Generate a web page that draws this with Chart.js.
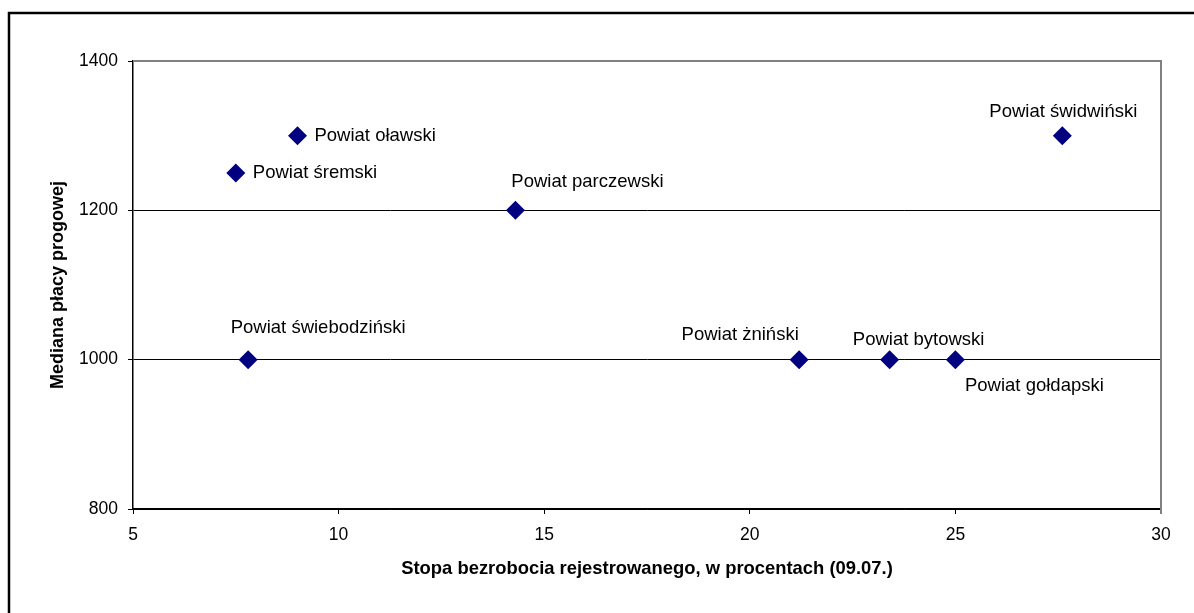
<!DOCTYPE html>
<html>
<head>
<meta charset="utf-8">
<script src="https://cdn.jsdelivr.net/npm/chart.js@4/dist/chart.umd.min.js"></script>
<style>
  html, body { margin: 0; padding: 0; background: #fff; }
  #wrap { width: 1194px; height: 613px; }
</style>
</head>
<body>
<div id="wrap"><canvas id="chart" width="1194" height="613"></canvas></div>
<script>
// data
const powiaty = ['Powiat oławski', 'Powiat śremski', 'Powiat parczewski', 'Powiat świebodziński',
  'Powiat żniński', 'Powiat bytowski', 'Powiat gołdapski', 'Powiat świdwiński'];
const stopaBezrobocia = [9.0, 7.5, 14.3, 7.8, 21.2, 23.4, 25.0, 27.6];
const medianaPlacy = [1300, 1250, 1200, 1000, 1000, 1000, 1000, 1300];

const xTitle = 'Stopa bezrobocia rejestrowanego, w procentach (09.07.)';
const yTitle = 'Mediana płacy progowej';

// where each label sits relative to its point (pixels)
const labelPlacement = [
  { dx: 17, dy: 0, align: 'left' },
  { dx: 17, dy: 0, align: 'left' },
  { dx: 72, dy: -28.5, align: 'center' },
  { dx: 70, dy: -31.5, align: 'center' },
  { dx: -59, dy: -24.5, align: 'center' },
  { dx: 29, dy: -19.5, align: 'center' },
  { dx: 79, dy: 26.5, align: 'center' },
  { dx: 1, dy: -23.5, align: 'center' }
];

const FONT = "'Liberation Sans', Arial, sans-serif";

const pointLabels = {
  id: 'pointLabels',
  afterDatasetsDraw(chart) {
    const ctx = chart.ctx;
    const meta = chart.getDatasetMeta(0);
    ctx.save();
    ctx.font = '18.5px ' + FONT;
    ctx.fillStyle = '#000';
    ctx.textBaseline = 'middle';
    meta.data.forEach((pt, i) => {
      const p = labelPlacement[i];
      ctx.textAlign = p.align;
      ctx.fillText(powiaty[i], pt.x + p.dx, pt.y + p.dy);
    });
    ctx.restore();
  }
};

const frame = {
  id: 'frame',
  beforeDraw(chart) {
    const ctx = chart.ctx;
    ctx.save();
    ctx.fillStyle = '#fff';
    ctx.fillRect(0, 0, chart.width, chart.height);
    ctx.strokeStyle = '#000';
    ctx.lineWidth = 2.5;
    ctx.beginPath();
    ctx.moveTo(9, chart.height);
    ctx.lineTo(9, 13);
    ctx.lineTo(chart.width, 13);
    ctx.stroke();
    ctx.restore();
  },
  afterDatasetsDraw(chart) {
    // grey top and right edge of the plot area
    const a = chart.chartArea;
    const ctx = chart.ctx;
    ctx.save();
    ctx.strokeStyle = '#808080';
    ctx.lineWidth = 2;
    ctx.beginPath();
    ctx.moveTo(a.left, a.top);
    ctx.lineTo(a.right, a.top);
    ctx.lineTo(a.right, a.bottom + 5);
    ctx.stroke();
    ctx.restore();
  }
};

new Chart(document.getElementById('chart'), {
  type: 'scatter',
  data: {
    datasets: [{
      label: 'Powiaty',
      data: stopaBezrobocia.map((x, i) => ({ x: x, y: medianaPlacy[i] })),
      pointStyle: 'rectRot',
      pointRadius: 9.5,
      pointHoverRadius: 9.5,
      backgroundColor: '#000080',
      borderColor: '#000080',
      borderWidth: 0
    }]
  },
  options: {
    responsive: false,
    animation: false,
    events: [],
    layout: { padding: { left: 0, top: 61, right: 33, bottom: 0 } },
    plugins: {
      legend: { display: false },
      tooltip: { enabled: false }
    },
    scales: {
      x: {
        type: 'linear',
        min: 5,
        max: 30,
        afterFit(scale) { scale.height = 104; },
        ticks: {
          stepSize: 5,
          padding: 11,
          color: '#000',
          callback: (v) => String(v),
          font: { family: FONT, size: 17.5, lineHeight: 1.2 }
        },
        grid: {
          drawOnChartArea: false,
          tickLength: 5,
          tickColor: '#000',
          color: '#000'
        },
        border: { color: '#000', width: 1.5 },
        title: {
          display: true,
          text: xTitle,
          color: '#000',
          padding: { top: 0, bottom: 33.5 },
          font: { family: FONT, size: 18.4, weight: 'bold', lineHeight: 1.2 }
        }
      },
      y: {
        min: 800,
        max: 1400,
        afterFit(scale) { scale.width = 133; },
        ticks: {
          stepSize: 200,
          padding: 10,
          color: '#000',
          callback: (v) => String(v),
          font: { family: FONT, size: 17.5, lineHeight: 1.2 }
        },
        grid: {
          tickLength: 5,
          tickColor: '#000',
          color: (c) => (c.tick && c.tick.value === 1400 ? 'rgba(0,0,0,0)' : '#000'),
          lineWidth: 1
        },
        border: { color: '#000', width: 1.5 },
        title: {
          display: true,
          text: yTitle,
          color: '#000',
          padding: { top: 47.5, bottom: 0 },
          font: { family: FONT, size: 18, weight: 'bold', lineHeight: 1.2 }
        }
      }
    }
  },
  plugins: [frame, pointLabels]
});
</script>
</body>
</html>
